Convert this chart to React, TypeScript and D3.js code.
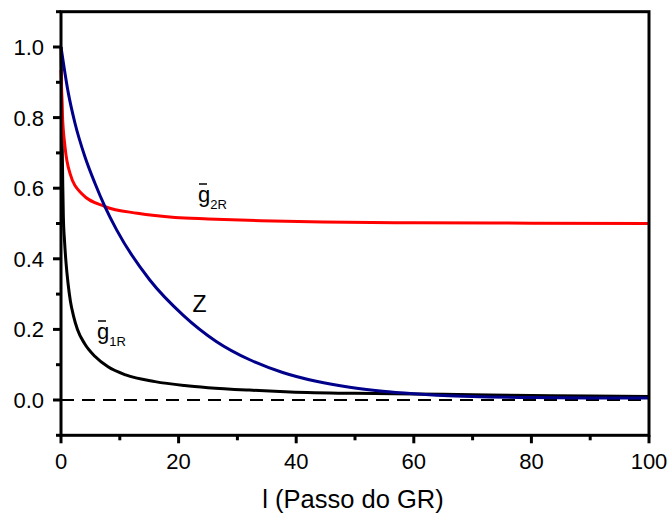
import React from 'react'
import * as d3 from 'd3'

// g1R (black)
const g1X = [0, 0.1, 0.2, 0.3, 0.4, 0.6, 0.85, 1.2, 1.6, 2.1, 2.8, 4, 5.8, 8, 11, 16, 21, 25, 32, 39, 50, 60, 70, 80, 90, 100]
const g1Y = [1.0, 0.86, 0.73, 0.61, 0.52, 0.45, 0.39, 0.33, 0.28, 0.24, 0.2, 0.16, 0.123, 0.094, 0.071, 0.052, 0.041, 0.035, 0.028, 0.023, 0.019, 0.017, 0.015, 0.013, 0.011, 0.01]

// g2R (red)
const g2X = [0, 0.23, 0.68, 1.53, 3.5, 7.5, 13, 19.4, 25, 34, 44.5, 60, 80, 100]
const g2Y = [0.935, 0.812, 0.718, 0.642, 0.585, 0.548, 0.529, 0.517, 0.513, 0.508, 0.504, 0.502, 0.501, 0.5]

// Z (blue)
const zX = [0, 1.24, 2.38, 4.07, 5.77, 7.47, 9.46, 15.1, 20.8, 26.4, 32.1, 37.7, 43.4, 49.1, 54.7, 60, 65, 70, 80, 90, 100]
const zY = [1.0, 0.87, 0.784, 0.689, 0.614, 0.548, 0.482, 0.34, 0.24, 0.166, 0.114, 0.078, 0.053, 0.036, 0.025, 0.018, 0.013, 0.01, 0.007, 0.006, 0.006]

const xMajor = [0, 20, 40, 60, 80, 100]
const xMinor = [10, 30, 50, 70, 90]
const yMajor = [0, 0.2, 0.4, 0.6, 0.8, 1.0]
const yMinor = [-0.1, 0.1, 0.3, 0.5, 0.7, 0.9, 1.1]

const font = 'Arial, "Liberation Sans", sans-serif'

const App = () => {
  const width = 670
  const height = 516
  const left = 61
  const right = 649
  const top = 11.7
  const bottom = 435.3

  const x = d3.scaleLinear().domain([0, 100]).range([left, right])
  const y = d3.scaleLinear().domain([-0.1, 1.1]).range([bottom, top])

  const line = d3.line<number>().curve(d3.curveMonotoneX)

  const path = (xs: number[], ys: number[]) =>
    line.x((_, i) => x(xs[i])).y((_, i) => y(ys[i]))(xs) || ''

  return (
    <svg
      width={width}
      height={height}
      style={{ position: 'absolute', left: 0, top: 0, background: '#fff' }}
      fontFamily={font}
    >
      {/* zero line */}
      <line
        x1={x(0)}
        x2={x(100)}
        y1={y(0)}
        y2={y(0)}
        stroke="#000"
        strokeWidth={2}
        strokeDasharray="13,8"
      />

      <path d={path(g1X, g1Y)} fill="none" stroke="#000" strokeWidth={3} />
      <path d={path(g2X, g2Y)} fill="none" stroke="#ff0000" strokeWidth={3} />
      <path d={path(zX, zY)} fill="none" stroke="#00008b" strokeWidth={3} />

      {/* frame */}
      <rect
        x={left}
        y={top}
        width={right - left}
        height={bottom - top}
        fill="none"
        stroke="#000"
        strokeWidth={3}
      />

      {/* y ticks */}
      {yMajor.map((v) => (
        <g key={'ym' + v}>
          <line x1={left - 8} x2={left} y1={y(v)} y2={y(v)} stroke="#000" strokeWidth={3} />
          <text x={left - 17} y={y(v)} dy="0.36em" textAnchor="end" fontSize={22}>
            {v.toFixed(1)}
          </text>
        </g>
      ))}
      {yMinor.map((v) => (
        <line key={'yn' + v} x1={left - 5} x2={left} y1={y(v)} y2={y(v)} stroke="#000" strokeWidth={3} />
      ))}

      {/* x ticks */}
      {xMajor.map((v) => (
        <g key={'xm' + v}>
          <line x1={x(v)} x2={x(v)} y1={bottom} y2={bottom + 8} stroke="#000" strokeWidth={3} />
          <text x={x(v)} y={469} textAnchor="middle" fontSize={22}>
            {v}
          </text>
        </g>
      ))}
      {xMinor.map((v) => (
        <line key={'xn' + v} x1={x(v)} x2={x(v)} y1={bottom} y2={bottom + 5} stroke="#000" strokeWidth={3} />
      ))}

      <text x={353} y={508} textAnchor="middle" fontSize={25.5}>
        l (Passo do GR)
      </text>

      {/* curve labels */}
      <g>
        <line x1={199} x2={207} y1={184} y2={184} stroke="#000" strokeWidth={1.5} />
        <text x={198} y={201.5} fontSize={22}>
          g
          <tspan fontSize={13} dy={7}>2R</tspan>
        </text>
      </g>
      <text x={192.5} y={311.5} fontSize={23}>
        Z
      </text>
      <g>
        <line x1={98} x2={106} y1={321} y2={321} stroke="#000" strokeWidth={1.5} />
        <text x={97} y={338.5} fontSize={22}>
          g
          <tspan fontSize={13} dy={7}>1R</tspan>
        </text>
      </g>
    </svg>
  )
}

export default App
